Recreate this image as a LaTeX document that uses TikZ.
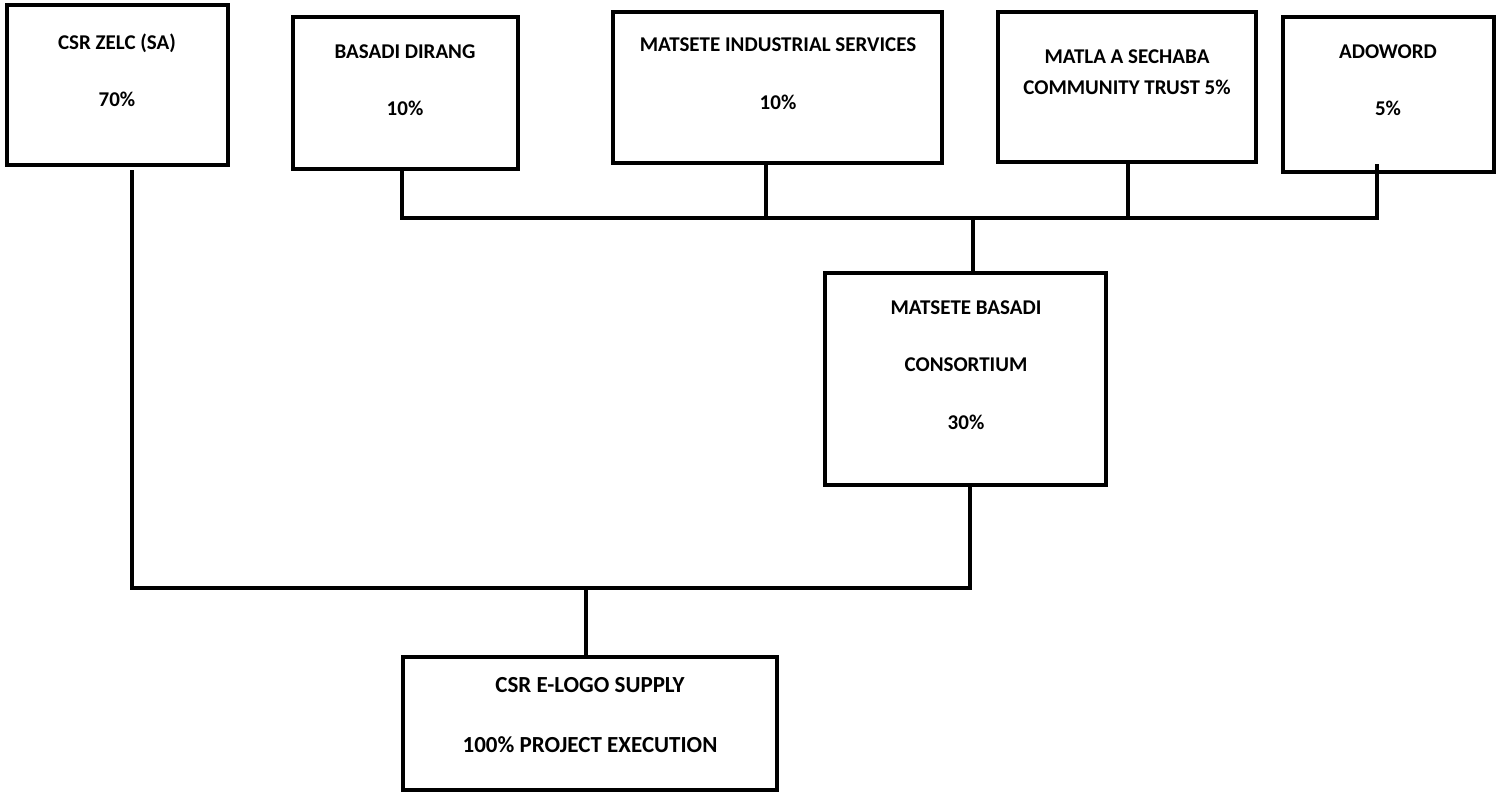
\documentclass[tikz,border=0pt]{standalone}
\usepackage{fontspec}
\setmainfont{Carlito}
\begin{document}
\begin{tikzpicture}[x=1pt,y=-1pt,
  box/.style={draw=black,line width=3.4pt,fill=white,inner sep=0pt,outer sep=0pt},
  conn/.style={draw=black,line width=3.2pt},
  lbl/.style={inner sep=0pt,font=\fontsize{21}{24}\selectfont\bfseries},
  biglbl/.style={inner sep=0pt,font=\fontsize{23}{26}\selectfont\bfseries}]
\useasboundingbox[fill=white] (0,0) rectangle (1501,793);
% boxes
\node[box,minimum width=221pt,minimum height=160pt] (csr) at (117.5,85) {};
\node[box,minimum width=225pt,minimum height=152pt] (basadi) at (405.5,93) {};
\node[box,minimum width=329pt,minimum height=151pt] (mis) at (777.5,87.5) {};
\node[box,minimum width=258pt,minimum height=150pt] (matla) at (1127,87) {};
\node[box,minimum width=211pt,minimum height=155pt] (adoword) at (1388.5,94.5) {};
\node[box,minimum width=281pt,minimum height=212pt] (cons) at (965.5,379) {};
\node[box,minimum width=374pt,minimum height=133pt] (elogo) at (590,723.5) {};
% texts
\node[lbl] (csr1) at (117,43) {CSR ZELC (SA)};
\node[lbl] (csr2) at (117,99) {70\%};
\node[lbl] (bas1) at (405,52) {BASADI DIRANG};
\node[lbl] (bas2) at (405,108) {10\%};
\node[lbl] (mis1) at (778,45) {MATSETE INDUSTRIAL SERVICES};
\node[lbl] (mis2) at (778,102) {10\%};
\node[lbl] (mat1) at (1127,57) {MATLA A SECHABA};
\node[lbl] (mat2) at (1127,87) {COMMUNITY TRUST 5\%};
\node[lbl] (ado1) at (1388,52) {ADOWORD};
\node[lbl] (ado2) at (1388,108) {5\%};
\node[lbl] (con1) at (966,308) {MATSETE BASADI};
\node[lbl] (con2) at (966,365) {CONSORTIUM};
\node[lbl] (con3) at (966,422) {30\%};
\node[biglbl] (elo1) at (590,685) {CSR E-LOGO SUPPLY};
\node[biglbl] (elo2) at (590,745) {100\% PROJECT EXECUTION};
% junctions
\coordinate (jL) at (132,588);
\coordinate (jM) at (586,588);
\coordinate (jR) at (970,588);
\coordinate (b1) at (402,218);
\coordinate (b2) at (766,218);
\coordinate (b3) at (973,218);
\coordinate (b4) at (1128,218);
\coordinate (b5) at (1377,218);
% connectors
\draw[conn] ([yshift=-5pt]csr.south -| jL) -- (jL) -- (jR) -- (cons.south -| jR);
\draw[conn] (jM) -- (elogo.north -| jM);
\draw[conn] (basadi.south -| b1) -- (b1) -- (b5) -- ([yshift=8pt]adoword.south -| b5);
\draw[conn] (mis.south -| b2) -- (b2);
\draw[conn] (matla.south -| b4) -- (b4);
\draw[conn] (b3) -- (cons.north -| b3);
\end{tikzpicture}
\end{document}
